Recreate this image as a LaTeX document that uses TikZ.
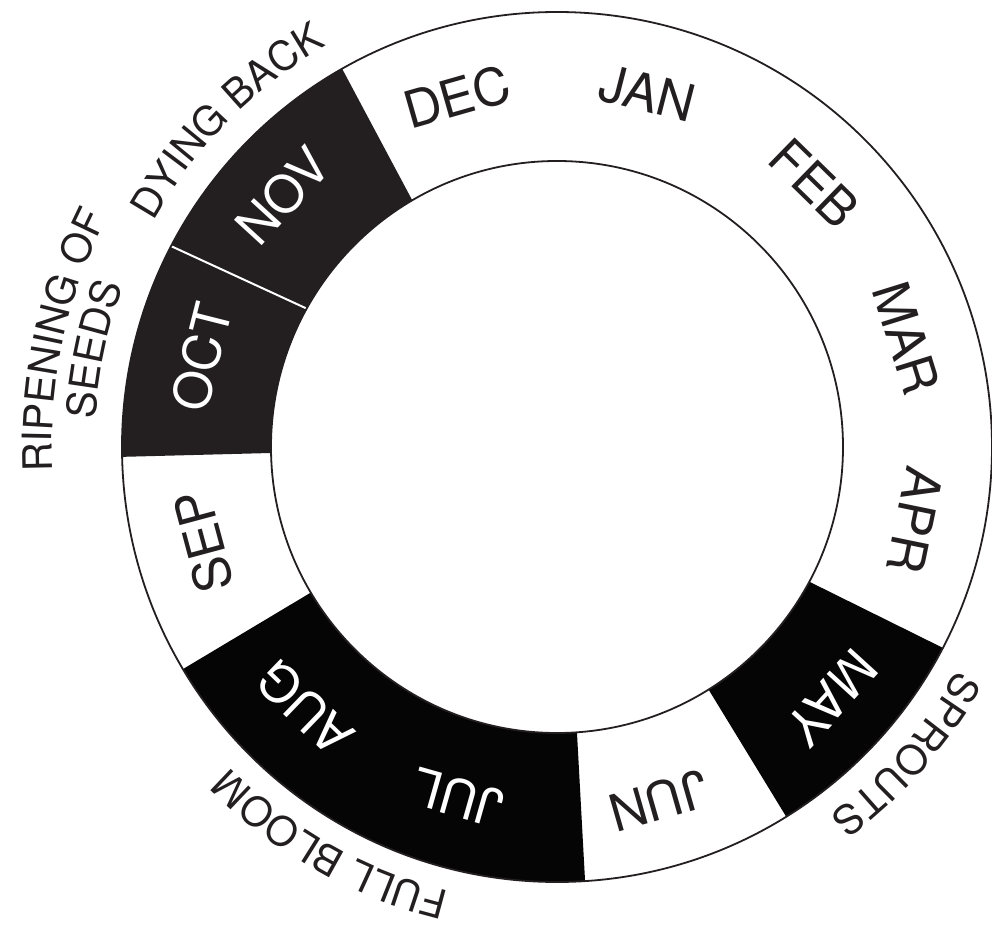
\documentclass[tikz,border=0pt]{standalone}
\usepackage{fontspec}
\newfontfamily\heros{TeX Gyre Heros}
\usetikzlibrary{decorations.text}
\definecolor{ink}{HTML}{231F20}
\definecolor{deep}{HTML}{050505}
\newcommand{\monthfont}{\heros\fontsize{51.5}{60}\selectfont}
\newcommand{\outerfont}{\heros\fontsize{40.5}{48}\selectfont}
% #1 fill, #2 inner start, #3 inner end, #4 outer start, #5 outer end
\newcommand{\ringsector}[5]{\fill[#1] (#2:286pt) arc[start angle=#2, end angle=#3, radius=286pt] -- (#5:435pt) arc[start angle=#5, end angle=#4, radius=435pt] -- cycle;}
\tikzset{
  monthlbl/.style={font=\monthfont, text=ink, inner sep=0pt},
  monthdark/.style={monthlbl, text=white},
  ringline/.style={draw=ink, line width=1.8pt},
}
\begin{document}
\begin{tikzpicture}[x=1pt,y=1pt]
\useasboundingbox (-557,-484) rectangle (435,447);
\fill[white] (-557,-484) rectangle (435,447);
% sectors
\ringsector{ink}{120.4}{151.06}{119.6}{152.5}
\ringsector{ink}{151.06}{181.2}{152.5}{181.3}
\ringsector{deep}{210.6}{274}{210.7}{273.7}
\ringsector{deep}{302}{331.9}{301.8}{332.5}
\draw[white, line width=2pt] (151.06:286pt) -- (152.5:435pt);
% circles
\draw[ringline] (0,0) circle[radius=435pt];
\draw[ringline] (0,0) circle[radius=286pt];
% months
\node[monthlbl, rotate=15.9] (dec) at (105.9:364pt) {DEC};
\node[monthlbl, rotate=-14.4] (jan) at (75.6:365pt) {JAN};
\node[monthlbl, rotate=-44.3] (feb) at (45.7:369pt) {FEB};
\node[monthlbl, rotate=-72.7] (mar) at (17.3:366pt) {MAR};
\node[monthlbl, rotate=-101.6] (apr) at (348.4:366pt) {APR};
\node[monthdark, rotate=227.6] (may) at (317.6:372pt) {MAY};
\node[monthlbl, rotate=196] (jun) at (286:368pt) {JUN};
\node[monthdark, rotate=164.2] (jul) at (254.2:364pt) {JUL};
\node[monthdark, rotate=136] (aug) at (226:363pt) {AUG};
\node[monthlbl, rotate=105] (sep) at (195:366pt) {SEP};
\node[monthdark, rotate=75.8] (oct) at (165.8:367pt) {OCT};
\node[monthdark, rotate=47.5] (nov) at (137.5:372pt) {NOV};
% outer labels
\path[decorate, decoration={text along path, text={|\outerfont\color{ink}|DYING BACK}, text align=center}]
  (175.3:462.5pt) arc[start angle=175.3, end angle=95.3, radius=462.5pt];
\path[decorate, decoration={text along path, text={|\outerfont\color{ink}|RIPENING OF}, text align=center}]
  (207.9:505pt) arc[start angle=207.9, end angle=127.9, radius=505pt];
\path[decorate, decoration={text along path, text={|\outerfont\color{ink}|SEEDS}, text align=center}]
  (208.1:462.5pt) arc[start angle=208.1, end angle=128.1, radius=462.5pt];
\path[decorate, decoration={text along path, text={|\outerfont\color{ink}|FULL BLOOM}, text align=center}]
  (280.4:457.5pt) arc[start angle=280.4, end angle=200.4, radius=457.5pt];
\path[decorate, decoration={text along path, text={|\outerfont\color{ink}|SPROUTS}, text align=center}]
  (358.7:458.5pt) arc[start angle=358.7, end angle=278.7, radius=458.5pt];
\end{tikzpicture}
\end{document}
